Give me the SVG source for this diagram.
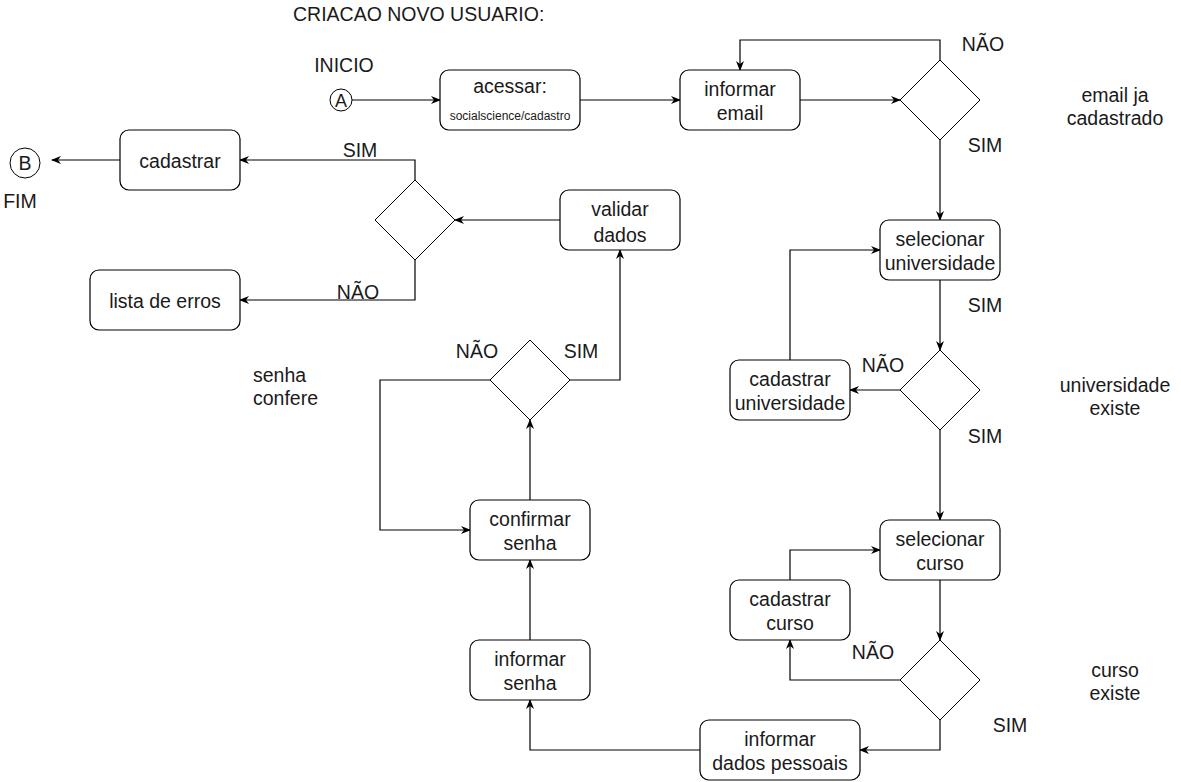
<svg xmlns="http://www.w3.org/2000/svg" width="1181" height="782" viewBox="0 0 1181 782">
<defs>
<marker id="arr" markerUnits="userSpaceOnUse" viewBox="0 0 10 8" refX="9" refY="4" markerWidth="10" markerHeight="8" orient="auto">
<path d="M0,0 L10,4 L0,8 L3,4 z" fill="#000"/>
</marker>
<style>
text{font-family:"Liberation Sans",Arial,sans-serif;font-size:19.5px;fill:#1a1a1a}
.c{text-anchor:middle}
.s{font-size:12px}
.box{fill:#fff;stroke:#000;stroke-width:1.2}
.dia{fill:#fff;stroke:#000;stroke-width:1}
.ln{fill:none;stroke:#000;stroke-width:1.2;marker-end:url(#arr)}
</style>
</defs>
<rect width="1181" height="782" fill="#fff"/>

<g id="labels">
<text x="293" y="21">CRIACAO NOVO USUARIO:</text>
<text class="c" x="344" y="72">INICIO</text>
<text class="c" x="20" y="208">FIM</text>
<text class="c" x="983" y="51">NÃO</text>
<text class="c" x="985" y="152">SIM</text>
<text class="c" x="1115" y="102">email ja</text>
<text class="c" x="1115" y="125">cadastrado</text>
<text class="c" x="985" y="312">SIM</text>
<text class="c" x="883" y="372">NÃO</text>
<text class="c" x="985" y="443">SIM</text>
<text class="c" x="1115" y="392">universidade</text>
<text class="c" x="1115" y="415">existe</text>
<text class="c" x="873" y="659">NÃO</text>
<text class="c" x="1010" y="732">SIM</text>
<text class="c" x="1115" y="677">curso</text>
<text class="c" x="1115" y="700">existe</text>
<text class="c" x="477" y="358">NÃO</text>
<text class="c" x="581" y="358">SIM</text>
<text x="253" y="382">senha</text>
<text x="253" y="405">confere</text>
<text class="c" x="360" y="157">SIM</text>
<text class="c" x="358" y="299">NÃO</text>
</g>

<g id="connectors">
<path class="ln" d="M352,100 L440,100"/>
<path class="ln" d="M580,100 L680,100"/>
<path class="ln" d="M800,100 L900,100"/>
<path class="ln" d="M940,60 L940,40 L740,40 L740,70"/>
<path class="ln" d="M940,140 L940,220"/>
<path class="ln" d="M940,280 L940,350"/>
<path class="ln" d="M900,390 L850,390"/>
<path class="ln" d="M790,360 L790,250 L880,250"/>
<path class="ln" d="M940,430 L940,520"/>
<path class="ln" d="M940,580 L940,640"/>
<path class="ln" d="M900,680 L790,680 L790,640"/>
<path class="ln" d="M790,580 L790,550 L880,550"/>
<path class="ln" d="M940,720 L940,750 L860,750"/>
<path class="ln" d="M700,750 L530,750 L530,700"/>
<path class="ln" d="M530,640 L530,560"/>
<path class="ln" d="M530,500 L530,420"/>
<path class="ln" d="M490,380 L380,380 L380,530 L470,530"/>
<path class="ln" d="M570,380 L620,380 L620,250"/>
<path class="ln" d="M560,220 L455,220"/>
<path class="ln" d="M415,180 L415,160 L240,160"/>
<path class="ln" d="M415,260 L415,300 L240,300"/>
<path class="ln" d="M120,160 L52,160"/>
</g>

<g id="startA">
<circle cx="341" cy="100" r="11" fill="#fff" stroke="#000" stroke-width="1"/>
<text class="c" x="341" y="107" style="font-size:18px">A</text>
</g>
<g id="endB">
<circle cx="25" cy="163" r="15" fill="#fff" stroke="#000" stroke-width="1"/>
<text class="c" x="25" y="170">B</text>
</g>

<g id="acessar">
<rect class="box" x="440" y="70" width="140" height="60" rx="9"/>
<text class="c" x="510" y="93">acessar:</text>
<text class="c s" x="510" y="120">socialscience/cadastro</text>
</g>
<g id="informarEmail">
<rect class="box" x="680" y="70" width="120" height="60" rx="9"/>
<text class="c" x="740" y="96">informar</text>
<text class="c" x="740" y="120">email</text>
</g>
<g id="decEmail">
<path class="dia" d="M940,60 L980,100 L940,140 L900,100 z"/>
</g>
<g id="selUniv">
<rect class="box" x="880" y="220" width="120" height="60" rx="9"/>
<text class="c" x="940" y="246">selecionar</text>
<text class="c" x="940" y="270">universidade</text>
</g>
<g id="decUniv">
<path class="dia" d="M940,350 L980,390 L940,430 L900,390 z"/>
</g>
<g id="cadUniv">
<rect class="box" x="730" y="360" width="120" height="60" rx="9"/>
<text class="c" x="790" y="386">cadastrar</text>
<text class="c" x="790" y="410">universidade</text>
</g>
<g id="selCurso">
<rect class="box" x="880" y="520" width="120" height="60" rx="9"/>
<text class="c" x="940" y="546">selecionar</text>
<text class="c" x="940" y="570">curso</text>
</g>
<g id="cadCurso">
<rect class="box" x="730" y="580" width="120" height="60" rx="9"/>
<text class="c" x="790" y="606">cadastrar</text>
<text class="c" x="790" y="630">curso</text>
</g>
<g id="decCurso">
<path class="dia" d="M940,640 L980,680 L940,720 L900,680 z"/>
</g>
<g id="dadosPessoais">
<rect class="box" x="700" y="720" width="160" height="60" rx="9"/>
<text class="c" x="780" y="746">informar</text>
<text class="c" x="780" y="770">dados pessoais</text>
</g>
<g id="informarSenha">
<rect class="box" x="470" y="640" width="120" height="60" rx="9"/>
<text class="c" x="530" y="666">informar</text>
<text class="c" x="530" y="690">senha</text>
</g>
<g id="confirmarSenha">
<rect class="box" x="470" y="500" width="120" height="60" rx="9"/>
<text class="c" x="530" y="526">confirmar</text>
<text class="c" x="530" y="550">senha</text>
</g>
<g id="decSenha">
<path class="dia" d="M530,340 L570,380 L530,420 L490,380 z"/>
</g>
<g id="validarDados">
<rect class="box" x="560" y="190" width="120" height="60" rx="9"/>
<text class="c" x="620" y="216">validar</text>
<text class="c" x="620" y="242">dados</text>
</g>
<g id="decValid">
<path class="dia" d="M415,180 L455,220 L415,260 L375,220 z"/>
</g>
<g id="cadastrar">
<rect class="box" x="120" y="130" width="120" height="60" rx="9"/>
<text class="c" x="180" y="168">cadastrar</text>
</g>
<g id="listaErros">
<rect class="box" x="90" y="270" width="150" height="60" rx="9"/>
<text class="c" x="165" y="308">lista de erros</text>
</g>
</svg>
